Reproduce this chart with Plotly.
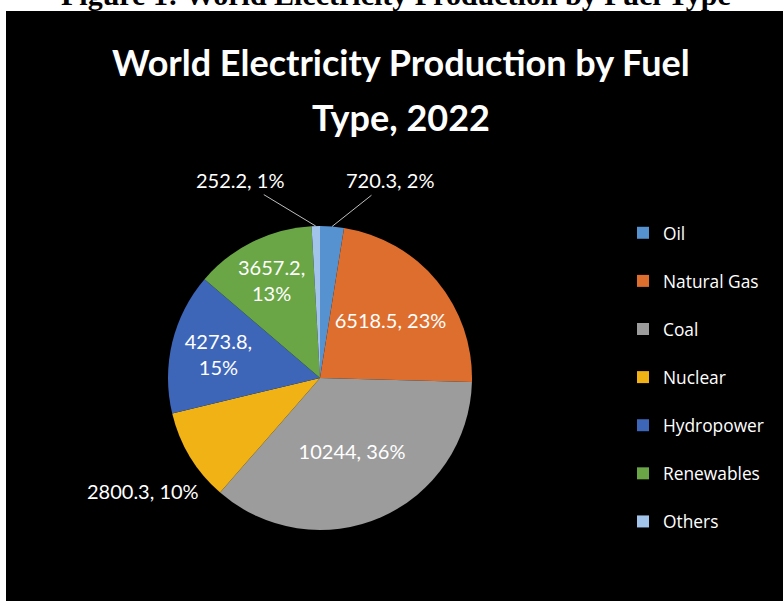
import math
import plotly.graph_objects as go

categories = ["Oil", "Natural Gas", "Coal", "Nuclear", "Hydropower", "Renewables", "Others"]
production = [720.3, 6518.5, 10244, 2800.3, 4273.8, 3657.2, 252.2]
shown_percent = [2, 23, 36, 10, 15, 13, 1]

colors = ["#5592cf", "#de6e2e", "#9c9c9c", "#f0b214", "#3d66b9", "#6aa646", "#a3c4ea"]
wrap_label = [False, False, False, False, True, True, False]
# labels drawn inside the slices vs. placed outside as annotations (pixel offsets of the text)
inside = [False, True, True, False, True, True, False]
outside_offsets = {0: (58, -46), 3: (-47, 34), 6: (-76, -46)}
outside_arrows = {0: True, 3: False, 6: True}

W, H = 783, 601
FONT = "Lato"
LABEL_FONT = "Lato"
LEGEND_FONT = "Open Sans"

texts = [f"{v:g},{'<br>' if w else ' '}{p}%" for v, p, w in zip(production, shown_percent, wrap_label)]
legend_labels = [c + "<br> " for c in categories]

cx, cy, r = 320, 378, 152

fig = go.Figure(
    go.Pie(
        labels=legend_labels,
        values=production,
        text=[t if i else "" for t, i in zip(texts, inside)],
        textinfo="text",
        textposition=["inside" if i else "none" for i in inside],
        insidetextorientation="horizontal",
        sort=False,
        direction="clockwise",
        rotation=0,
        marker=dict(colors=colors, line=dict(width=0)),
        insidetextfont=dict(family=LABEL_FONT, size=20, color="white"),
        domain=dict(x=[(cx - r) / W, (cx + r) / W], y=[1 - (cy + r) / H, 1 - (cy - r) / H]),
        hoverinfo="label+value+percent",
    )
)

# outside labels, anchored on the slice edge (angle from the data)
total = sum(production)
annotations = []
cum = 0.0
for i, v in enumerate(production):
    mid = (cum + v / 2) / total
    cum += v
    if inside[i]:
        continue
    theta = 2 * math.pi * mid
    px = cx + r * math.sin(theta)
    py = cy - r * math.cos(theta)
    ox, oy = outside_offsets[i]
    if outside_arrows[i]:
        annotations.append(
            dict(
                text=texts[i], xref="paper", yref="paper",
                x=px / W, y=1 - py / H,
                showarrow=True, arrowhead=0, arrowwidth=1, arrowcolor="#bfbfbf",
                standoff=0, startstandoff=2,
                axref="pixel", ayref="pixel", ax=ox, ay=oy,
                font=dict(family=LABEL_FONT, size=20, color="white"),
            )
        )
    else:
        annotations.append(
            dict(
                text=texts[i], xref="paper", yref="paper",
                x=px / W, y=1 - py / H, xanchor="center", yanchor="middle",
                showarrow=False, xshift=ox, yshift=-oy,
                font=dict(family=LABEL_FONT, size=20, color="white"),
            )
        )

annotations += [
    dict(
        text="<b>Figure 1: World Electricity Production by Fuel Type</b>",
        xref="paper", yref="paper", x=396 / W, y=1 + 6 / H,
        xanchor="center", yanchor="middle", showarrow=False,
        font=dict(family="Liberation Serif", size=30, color="black"),
    ),
    dict(
        text="<b>World Electricity Production by Fuel</b>",
        xref="paper", yref="paper", x=401 / W, y=1 - 62 / H,
        xanchor="center", yanchor="middle", showarrow=False,
        font=dict(family=FONT, size=36, color="white"),
    ),
    dict(
        text="<b>Type, 2022</b>",
        xref="paper", yref="paper", x=401 / W, y=1 - 117 / H,
        xanchor="center", yanchor="middle", showarrow=False,
        font=dict(family=FONT, size=36, color="white"),
    ),
]

fig.update_layout(
    width=W,
    height=H,
    margin=dict(l=0, r=0, t=0, b=0),
    paper_bgcolor="white",
    plot_bgcolor="white",
    showlegend=True,
    legend=dict(
        x=623 / W,
        xanchor="left",
        y=1 - 215 / H,
        yanchor="top",
        valign="top",
        bgcolor="rgba(0,0,0,0)",
        font=dict(family=LEGEND_FONT, size=17.35, color="white"),
    ),
    shapes=[
        dict(
            type="rect", xref="paper", yref="paper",
            x0=6 / W, x1=1, y0=0, y1=1 - 11 / H,
            fillcolor="black", line=dict(width=0), layer="below",
        )
    ],
    annotations=annotations,
)

fig.write_html("out.html")
